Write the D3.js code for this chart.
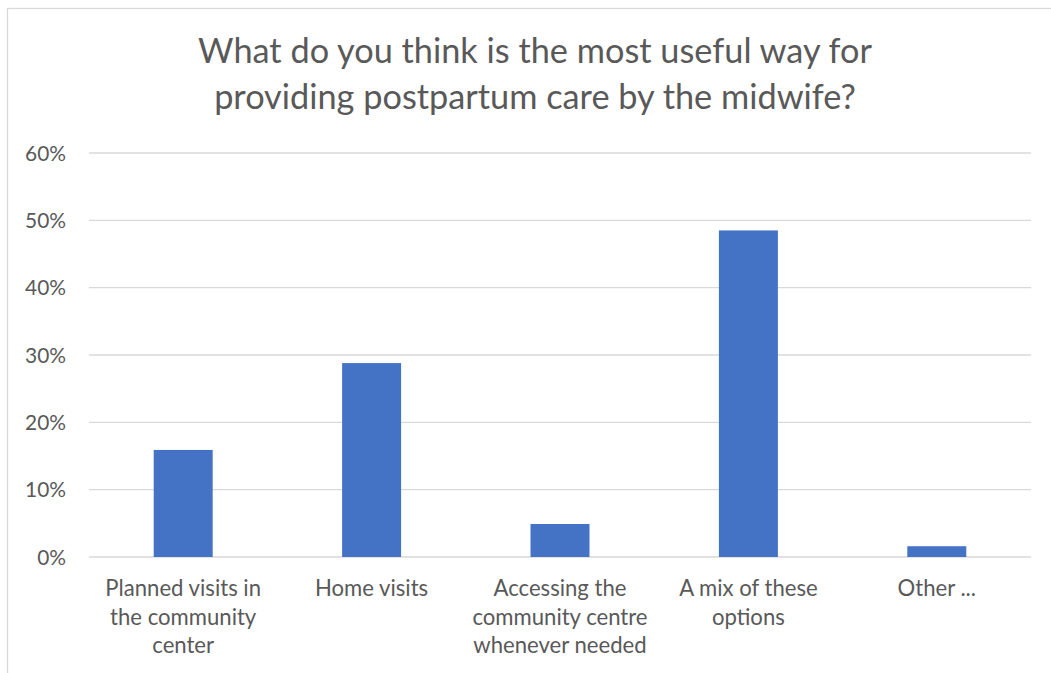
<!DOCTYPE html>
<html><head><meta charset="utf-8">
<script src="https://cdn.jsdelivr.net/npm/d3@7"></script>
<style>
body{margin:0;background:#fff}
text{font-family:Lato,"Open Sans",sans-serif;fill:#595959}
</style>
</head><body>
<svg id="c" width="1051" height="673"></svg>
<script>
const titleLines = ["What do you think is the most useful way for", "providing postpartum care by the midwife?"];
const categories = ["Planned visits in the community center", "Home visits", "Accessing the community centre whenever needed", "A mix of these options", "Other ..."];
const categoryLines = [
  ["Planned visits in", "the community", "center"],
  ["Home visits"],
  ["Accessing the", "community centre", "whenever needed"],
  ["A mix of these", "options"],
  ["Other ..."]
];
const values = [0.159, 0.288, 0.049, 0.485, 0.016];
const yTicks = [0, 0.1, 0.2, 0.3, 0.4, 0.5, 0.6];

const svg = d3.select("#c");

// fit font size to a target width
function fitSize(str, target, weight) {
  const t = svg.append("text").attr("font-size", 100).text(str);
  const w = t.node().getComputedTextLength();
  t.remove();
  return 100 * target / w;
}

// chart border
svg.append("rect").attr("x", 7.5).attr("y", 8.5).attr("width", 1100).attr("height", 700)
  .attr("fill", "none").attr("stroke", "#d9d9d9").attr("stroke-width", 1.3);

const x = d3.scaleBand().domain(categories).range([89, 1031]).paddingInner(0.687).paddingOuter(0.3435);
const y = d3.scaleLinear().domain([0, 0.6]).range([557, 153]);

// gridlines
svg.append("g").selectAll("line").data(yTicks).join("line")
  .attr("x1", 89).attr("x2", 1031)
  .attr("y1", d => y(d)).attr("y2", d => y(d))
  .attr("stroke", "#d9d9d9").attr("stroke-width", 1.3);

// y axis labels
const tickSize = fitSize("60%", 41);
const yAxis = d3.axisLeft(y).tickValues(yTicks).tickFormat(d3.format(".0%")).tickSize(0).tickPadding(0);
const yg = svg.append("g").attr("transform", "translate(66,0)").call(yAxis);
yg.select(".domain").remove();
yg.selectAll("text").attr("font-size", tickSize).attr("font-family", null).attr("fill", "#595959")
  .attr("dy", "0.35em");

// bars
svg.append("g").selectAll("rect").data(values).join("rect")
  .attr("x", (d, i) => x(categories[i]))
  .attr("width", x.bandwidth())
  .attr("y", d => y(d))
  .attr("height", d => y(0) - y(d))
  .attr("fill", "#4472c4");

// category labels
const catSize = fitSize("Planned visits in", 155.7);
const cg = svg.append("g");
categories.forEach((c, i) => {
  const t = cg.append("text").attr("text-anchor", "middle").attr("font-size", catSize)
    .attr("x", x(c) + x.bandwidth() / 2);
  categoryLines[i].forEach((ln, j) => {
    t.append("tspan").attr("x", x(c) + x.bandwidth() / 2).attr("y", 595.7 + j * 28.8).text(ln);
  });
});

// title
const titleSize = fitSize(titleLines[0], 674);
svg.append("g").selectAll("text").data(titleLines).join("text")
  .attr("x", 535).attr("y", (d, i) => 63 + i * 45.5)
  .attr("text-anchor", "middle").attr("font-size", titleSize).text(d => d);
</script>
</body></html>
